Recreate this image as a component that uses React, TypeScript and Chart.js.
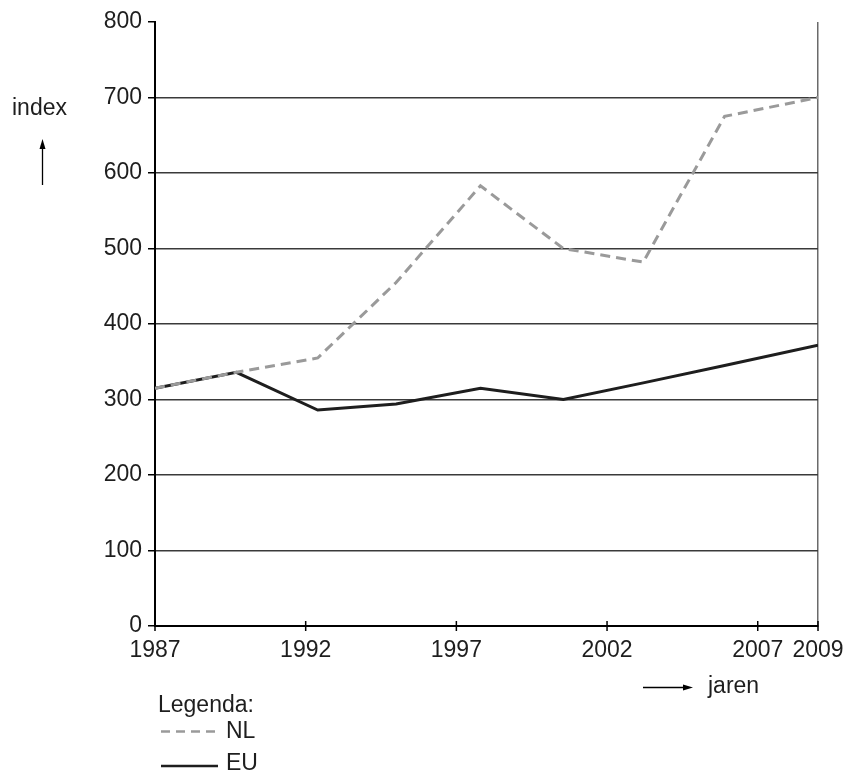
import { useEffect, useRef } from 'react';
import { Chart, registerables } from 'chart.js';

Chart.register(...registerables);

const years = [1987, 1989.7, 1992.4, 1995, 1997.8, 2000.55, 2003.2, 2005.9, 2009];
const nlValues = [315, 336, 355, 455, 583, 500, 482, 675, 700];
const euValues = [315, 336, 286, 294, 315, 300, 322, 345, 372];
const xTickYears = [1987, 1992, 1997, 2002, 2007, 2009];
const yMin = 0;
const yMax = 800;
const yStep = 100;
const seriesNames = ['NL', 'EU'];
const yAxisLabel = 'index';
const xAxisLabel = 'jaren';
const legendTitle = 'Legenda:';

const FONT = '"Liberation Sans", Arial, sans-serif';
const NL_COLOR = '#9a9a9a';
const EU_COLOR = '#1e1e1e';
const TEXT_COLOR = '#1e1e1e';

const decorPlugin = {
  id: 'decor',
  afterDraw(chart: any) {
    const { ctx, scales } = chart;
    const x = scales.x;
    const y = scales.y;
    const bottom = y.getPixelForValue(0);
    ctx.save();
    // crossing tick marks on x-axis
    ctx.strokeStyle = '#000';
    ctx.lineWidth = 1.5;
    xTickYears.forEach((v) => {
      const px = x.getPixelForValue(v);
      ctx.beginPath();
      ctx.moveTo(px, bottom - 5);
      ctx.lineTo(px, bottom + 5);
      ctx.stroke();
    });
    // axis labels with arrows
    ctx.fillStyle = TEXT_COLOR;
    ctx.font = `23px ${FONT}`;
    ctx.textBaseline = 'alphabetic';
    ctx.textAlign = 'left';
    ctx.fillText(yAxisLabel, 12, 115);
    // up arrow
    ctx.strokeStyle = '#000';
    ctx.lineWidth = 1.3;
    ctx.beginPath();
    ctx.moveTo(42.5, 185);
    ctx.lineTo(42.5, 146);
    ctx.stroke();
    ctx.fillStyle = '#000';
    ctx.beginPath();
    ctx.moveTo(42.5, 139);
    ctx.lineTo(39.5, 149);
    ctx.lineTo(45.5, 149);
    ctx.closePath();
    ctx.fill();
    // right arrow
    ctx.beginPath();
    ctx.moveTo(643, 687.5);
    ctx.lineTo(685, 687.5);
    ctx.stroke();
    ctx.beginPath();
    ctx.moveTo(693, 687.5);
    ctx.lineTo(683, 684.5);
    ctx.lineTo(683, 690.5);
    ctx.closePath();
    ctx.fill();
    ctx.fillStyle = TEXT_COLOR;
    ctx.fillText(xAxisLabel, 708, 693);
    // legend
    ctx.fillText(legendTitle, 158, 712);
    ctx.fillText(seriesNames[0], 226, 738);
    ctx.fillText(seriesNames[1], 226, 770);
    ctx.lineWidth = 2.5;
    ctx.strokeStyle = NL_COLOR;
    ctx.setLineDash([9, 6]);
    ctx.beginPath();
    ctx.moveTo(161, 731.5);
    ctx.lineTo(220, 731.5);
    ctx.stroke();
    ctx.setLineDash([]);
    ctx.strokeStyle = EU_COLOR;
    ctx.beginPath();
    ctx.moveTo(161, 766);
    ctx.lineTo(218, 766);
    ctx.stroke();
    ctx.restore();
  },
};

export default function App() {
  const canvasRef = useRef<HTMLCanvasElement | null>(null);

  useEffect(() => {
    if (!canvasRef.current) return;
    const chart = new Chart(canvasRef.current, {
      type: 'line',
      data: {
        datasets: [
          {
            label: seriesNames[0],
            data: years.map((yr, i) => ({ x: yr, y: nlValues[i] })),
            borderColor: NL_COLOR,
            borderWidth: 3,
            borderDash: [10, 6],
            pointRadius: 0,
            tension: 0,
            fill: false,
            order: 0,
          },
          {
            label: seriesNames[1],
            data: years.map((yr, i) => ({ x: yr, y: euValues[i] })),
            borderColor: EU_COLOR,
            borderWidth: 3,
            pointRadius: 0,
            tension: 0,
            fill: false,
            order: 1,
          },
        ],
      },
      options: {
        animation: false,
        responsive: true,
        maintainAspectRatio: false,
        layout: { padding: { top: 22, right: 30, bottom: 0, left: 0 } },
        plugins: {
          legend: { display: false },
          tooltip: { enabled: false },
          title: { display: false },
        },
        scales: {
          x: {
            type: 'linear',
            min: years[0],
            max: years[years.length - 1],
            afterBuildTicks: (scale: any) => {
              scale.ticks = xTickYears.map((v) => ({ value: v }));
            },
            afterFit: (scale: any) => {
              scale.height = 145;
              scale.paddingLeft = 0;
              scale.paddingRight = 0;
            },
            ticks: {
              autoSkip: false,
              maxRotation: 0,
              padding: 11,
              color: TEXT_COLOR,
              font: { family: FONT, size: 23 },
              callback: (v: any) => String(v),
            },
            grid: {
              drawTicks: false,
              lineWidth: 1.5,
              color: (c: any) => (c.tick && c.tick.value === xTickYears[xTickYears.length - 1] ? '#6a6a6a' : 'rgba(0,0,0,0)'),
            },
            border: { color: '#000', width: 2 },
          },
          y: {
            type: 'linear',
            min: yMin,
            max: yMax,
            afterFit: (scale: any) => {
              scale.width = 155;
              scale.paddingTop = 0;
              scale.paddingBottom = 0;
            },
            ticks: {
              stepSize: yStep,
              padding: 6,
              color: TEXT_COLOR,
              font: { family: FONT, size: 23 },
              callback: (v: any) => String(v),
            },
            grid: {
              drawTicks: true,
              tickLength: 7,
              tickColor: '#000',
              tickWidth: 1.5,
              lineWidth: 1.5,
              color: (c: any) => (c.tick && (c.tick.value === yMax || c.tick.value === yMin) ? 'rgba(0,0,0,0)' : '#3a3a3a'),
            },
            border: { color: '#000', width: 2 },
          },
        },
      },
      plugins: [decorPlugin],
    });
    return () => chart.destroy();
  }, []);

  return (
    <div style={{ position: 'fixed', left: 0, top: 0, width: 848, height: 771, background: '#fff' }}>
      <canvas ref={canvasRef} />
    </div>
  );
}
